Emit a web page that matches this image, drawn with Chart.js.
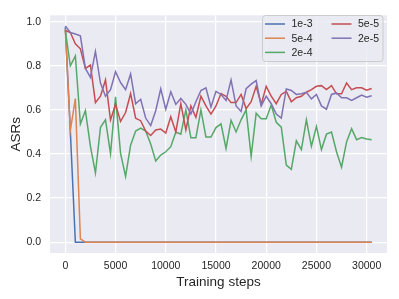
<!DOCTYPE html>
<html>
<head>
<meta charset="utf-8">
<script src="https://cdn.jsdelivr.net/npm/chart.js@4"></script>
<style>
  body { margin: 0; background: #fff; }
  canvas { display: block; }
</style>
</head>
<body>
<canvas id="asr-chart" width="399" height="299"></canvas>
<script>
// training steps (every 500)
const steps = [0, 500, 1000, 1500, 2000, 2500, 3000, 3500, 4000, 4500,
  5000, 5500, 6000, 6500, 7000, 7500, 8000, 8500, 9000, 9500,
  10000, 10500, 11000, 11500, 12000, 12500, 13000, 13500, 14000, 14500,
  15000, 15500, 16000, 16500, 17000, 17500, 18000, 18500, 19000, 19500,
  20000, 20500, 21000, 21500, 22000, 22500, 23000, 23500, 24000, 24500,
  25000, 25500, 26000, 26500, 27000, 27500, 28000, 28500, 29000, 29500,
  30000, 30500];

const lr1e3 = [0.975, 0.504, 0, 0, 0, 0, 0, 0, 0, 0,
  0, 0, 0, 0, 0, 0, 0, 0, 0, 0,
  0, 0, 0, 0, 0, 0, 0, 0, 0, 0,
  0, 0, 0, 0, 0, 0, 0, 0, 0, 0,
  0, 0, 0, 0, 0, 0, 0, 0, 0, 0,
  0, 0, 0, 0, 0, 0, 0, 0, 0, 0,
  0, 0];

const lr5e4 = [0.965, 0.507, 0.651, 0.015, 0, 0, 0, 0, 0, 0,
  0, 0, 0, 0, 0, 0, 0, 0, 0, 0,
  0, 0, 0, 0, 0, 0, 0, 0, 0, 0,
  0, 0, 0, 0, 0, 0, 0, 0, 0, 0,
  0, 0, 0, 0, 0, 0, 0, 0, 0, 0,
  0, 0, 0, 0, 0, 0, 0, 0, 0, 0,
  0, 0];

const lr2e4 = [0.96, 0.80, 0.845, 0.536, 0.597, 0.435, 0.314, 0.521, 0.555, 0.402,
  0.659, 0.403, 0.298, 0.44, 0.504, 0.517, 0.504, 0.445, 0.368, 0.395,
  0.41, 0.433, 0.50, 0.49, 0.60, 0.474, 0.474, 0.60, 0.477, 0.477,
  0.52, 0.537, 0.425, 0.553, 0.50, 0.555, 0.60, 0.39, 0.585, 0.56,
  0.56, 0.622, 0.544, 0.522, 0.35, 0.33, 0.46, 0.42, 0.555, 0.435,
  0.525, 0.42, 0.49, 0.50, 0.41, 0.34, 0.455, 0.515, 0.465, 0.475,
  0.468, 0.465];

const lr5e5 = [0.96, 0.951, 0.90, 0.877, 0.788, 0.803, 0.633, 0.662, 0.736, 0.554,
  0.625, 0.548, 0.588, 0.674, 0.562, 0.551, 0.504, 0.484, 0.509, 0.513,
  0.495, 0.569, 0.50, 0.628, 0.509, 0.618, 0.566, 0.662, 0.618, 0.581,
  0.618, 0.674, 0.662, 0.633, 0.633, 0.67, 0.606, 0.637, 0.707, 0.625,
  0.707, 0.662, 0.628, 0.67, 0.684, 0.637, 0.655, 0.662, 0.68, 0.692,
  0.707, 0.71, 0.692, 0.71, 0.673, 0.673, 0.722, 0.692, 0.70, 0.70,
  0.689, 0.697];

const lr2e5 = [0.981, 0.951, 0.944, 0.936, 0.788, 0.748, 0.865, 0.722, 0.662, 0.692,
  0.773, 0.724, 0.692, 0.763, 0.628, 0.648, 0.563, 0.529, 0.596, 0.696,
  0.603, 0.682, 0.625, 0.652, 0.625, 0.581, 0.637, 0.688, 0.70, 0.613,
  0.684, 0.67, 0.643, 0.736, 0.618, 0.593, 0.696, 0.717, 0.733, 0.618,
  0.662, 0.628, 0.581, 0.563, 0.695, 0.688, 0.67, 0.673, 0.68, 0.65,
  0.67, 0.618, 0.603, 0.67, 0.677, 0.655, 0.655, 0.643, 0.655, 0.667,
  0.658, 0.664];

const seriesLabels = ['1e-3', '5e-4', '2e-4', '5e-5', '2e-5'];
const seriesData = [lr1e3, lr5e4, lr2e4, lr5e5, lr2e5];
const seriesColors = ['#4C72B0', '#DD8452', '#55A868', '#C44E52', '#8172B3'];

const xTicks = [0, 5000, 10000, 15000, 20000, 25000, 30000];
const yTicks = [0, 0.2, 0.4, 0.6, 0.8, 1.0];

const FONT = "'Liberation Sans', Arial, sans-serif";
const TEXT = '#262626';

// seaborn style grey plot area
const plotBg = {
    id: 'plotBg',
    beforeDraw(chart) {
        const { ctx, chartArea: a } = chart;
        ctx.save();
        ctx.fillStyle = '#EAEAF2';
        ctx.fillRect(a.left, a.top, a.right - a.left, a.bottom - a.top);
        ctx.restore();
    }
};

// two-column legend, filled column first like matplotlib ncol=2
const colLegend = {
    id: 'colLegend',
    afterDraw(chart) {
        const ctx = chart.ctx;
        const bx = 262, by = 15, bw = 120.5, bh = 46;
        ctx.save();
        ctx.beginPath();
        ctx.roundRect(bx + 0.5, by + 0.5, bw, bh, 3);
        ctx.fillStyle = 'rgba(234,234,242,0.8)';
        ctx.fill();
        ctx.strokeStyle = '#cccccc';
        ctx.lineWidth = 1;
        ctx.stroke();
        ctx.font = '10.5px ' + FONT;
        ctx.textBaseline = 'middle';
        ctx.fillStyle = TEXT;
        seriesLabels.forEach((lbl, i) => {
            const col = i < 3 ? 0 : 1;
            const row = i < 3 ? i : i - 3;
            const x0 = col === 0 ? 265 : 331.5;
            const y = 24 + row * 14.2;
            ctx.beginPath();
            ctx.moveTo(x0, y);
            ctx.lineTo(x0 + 20, y);
            ctx.strokeStyle = seriesColors[i];
            ctx.lineWidth = 1.5;
            ctx.stroke();
            ctx.fillText(lbl, x0 + 26.5, y + 0.5);
        });
        ctx.restore();
    }
};

const datasets = seriesLabels.map((lbl, i) => ({
    label: lbl,
    data: steps.map((s, j) => ({ x: s, y: seriesData[i][j] })),
    borderColor: seriesColors[i],
    backgroundColor: seriesColors[i],
    borderWidth: 1.5,
    pointRadius: 0,
    tension: 0,
    order: seriesLabels.length - 1 - i
}));

const ctx = document.getElementById('asr-chart').getContext('2d');
new Chart(ctx, {
    type: 'line',
    data: { datasets: datasets },
    options: {
        responsive: false,
        animation: false,
        layout: { padding: { top: 12, right: 12, left: 0, bottom: 0 } },
        plugins: {
            legend: { display: false },
            tooltip: { enabled: false }
        },
        scales: {
            x: {
                type: 'linear',
                min: -1525,
                max: 32025,
                afterBuildTicks: axis => { axis.ticks = xTicks.map(v => ({ value: v })); },
                afterFit: axis => { axis.height = 46; },
                grid: { color: '#ffffff', lineWidth: 1.2, drawTicks: false },
                border: { display: false },
                ticks: {
                    padding: 7,
                    color: TEXT,
                    maxRotation: 0,
                    font: { family: FONT, size: 10.5 },
                    callback: v => String(v)
                },
                title: {
                    display: true,
                    text: 'Training steps',
                    color: TEXT,
                    font: { family: FONT, size: 13.5 },
                    padding: { top: 0, bottom: 9 }
                }
            },
            y: {
                type: 'linear',
                min: -0.049,
                max: 1.029,
                afterBuildTicks: axis => { axis.ticks = yTicks.map(v => ({ value: v })); },
                afterFit: axis => { axis.width = 50; },
                grid: { color: '#ffffff', lineWidth: 1.2, drawTicks: false },
                border: { display: false },
                ticks: {
                    padding: 9,
                    color: TEXT,
                    font: { family: FONT, size: 10.5 },
                    callback: v => v.toFixed(1)
                },
                title: {
                    display: true,
                    text: 'ASRs',
                    color: TEXT,
                    font: { family: FONT, size: 13.5 },
                    padding: { top: 8, bottom: 0 }
                }
            }
        }
    },
    plugins: [plotBg, colLegend]
});
</script>
</body>
</html>
